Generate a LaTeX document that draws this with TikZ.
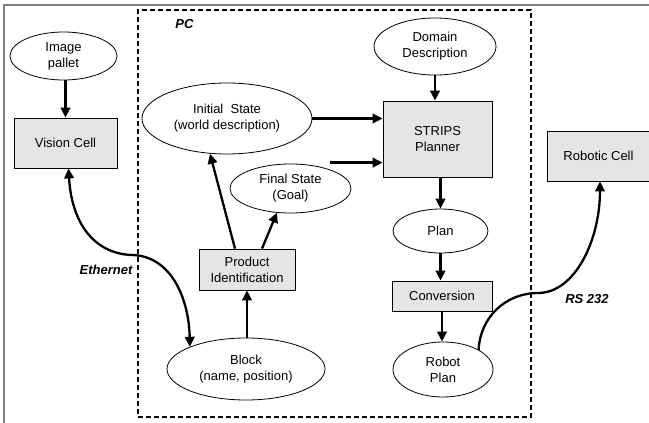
\documentclass[tikz,border=0pt]{standalone}
\usepackage{fontspec}
\setmainfont{Liberation Sans}
\usetikzlibrary{arrows.meta,shapes.geometric,calc}
\tikzset{
  every node/.style={font=\fontsize{13}{16}\selectfont, align=center, inner sep=0pt},
  oval/.style={ellipse, draw, line width=0.8pt, fill=white},
  graybox/.style={rectangle, draw, line width=0.8pt, fill=gray!20},
  arr/.style={line width=2.3pt, -{Triangle[length=10pt,width=9.5pt]}},
  darr/.style={line width=2.3pt, {Triangle[length=10pt,width=9.5pt]}-{Triangle[length=10pt,width=9.5pt]}},
  curvearr/.style={line width=2.3pt, -{Triangle[length=10pt,width=9.5pt]}},
  lbl/.style={font=\fontsize{13}{16}\selectfont\bfseries\itshape}
}
\begin{document}
\begin{tikzpicture}[x=1pt,y=-1pt]
\useasboundingbox (0,0) rectangle (649,423);
% outer frame (top and left edges)
\coordinate (ftl) at (4,5);
\coordinate (ftr) at (652,5);
\coordinate (fbl) at (4,426);
\draw[line width=1.5pt, gray] (fbl) -- (ftl) -- (ftr);
% PC dashed box
\node[draw, dash pattern=on 5pt off 3pt, line width=1.8pt, minimum width=393pt, minimum height=407pt] (pc) at (334.5,213.5) {};
\node[lbl] (pclbl) at (184.5,24) {PC};

% nodes
\node[oval, minimum width=107pt, minimum height=48pt] (pallet) at (63.5,56) {Image\\pallet};
\node[graybox, minimum width=103pt, minimum height=50pt] (vision) at (65.5,143) {Vision Cell};
\node[oval, minimum width=170pt, minimum height=71pt] (init) at (227,118.5) {Initial\ \ State\\(world description)};
\node[oval, minimum width=121pt, minimum height=49pt] (final) at (290.5,188.5) {Final State\\(Goal)};
\node[oval, minimum width=122pt, minimum height=57pt] (domain) at (435,46.5) {Domain\\Description};
\node[graybox, minimum width=109pt, minimum height=76pt] (strips) at (437.5,139) {STRIPS\\Planner};
\node[graybox, minimum width=103pt, minimum height=50pt] (robotic) at (598.5,156) {Robotic Cell};
\node[oval, minimum width=95pt, minimum height=44pt] (plan) at (440.5,231) {Plan};
\node[graybox, minimum width=100pt, minimum height=30pt] (conv) at (442,296) {Conversion};
\node[oval, minimum width=100pt, minimum height=55pt] (rplan) at (443,369.5) {Robot\\Plan};
\node[graybox, minimum width=96pt, minimum height=41pt] (prod) at (247,269.5) {Product\\Identification};
\node[oval, minimum width=158pt, minimum height=62pt] (block) at (246,369) {Block\\(name, position)};

\node[lbl] (eth) at (106,270) {Ethernet};
\node[lbl] (rs) at (587,299) {RS 232};

% straight connectors
\draw[arr] (pallet.south -| vision.north) -- (vision.north);
\draw[arr] (domain.south) -- (domain.south |- strips.north);
\draw[arr] (init.east) -- (init.east -| strips.west);
\coordinate (fs) at ($(final.north)+(39,-1)$);
\draw[arr] (fs) -- (fs -| strips.west);
\draw[arr] (strips.south -| plan.north) -- (plan.north);
\draw[arr] (plan.south) -- (plan.south |- conv.north);
\draw[arr] (conv.south) -- (conv.south |- rplan.north);
\draw[arr] (block.north -| prod.south) -- (prod.south);
\draw[arr] ($(prod.north)+(-12,0)$) -- ($(init.south)+(-17,-0.7)$);
\draw[arr] ($(prod.north)+(15,0)$) -- ($(final.south)+(-13.5,-0.8)$);

% curved connectors
\coordinate (ethmid) at (132,255);
\draw[darr] ($(vision.south)+(3,0)$) .. controls (72,228) and (98,254) .. (ethmid)
  .. controls (172,256) and (189,300) .. (block.north west);
\coordinate (rsmid) at (538,293);
\draw[curvearr] (rplan.north east) .. controls (480,318) and (505,293) .. (rsmid)
  .. controls (575,293) and (600,240) .. ($(robotic.south)+(1.5,0)$);
\end{tikzpicture}
\end{document}
